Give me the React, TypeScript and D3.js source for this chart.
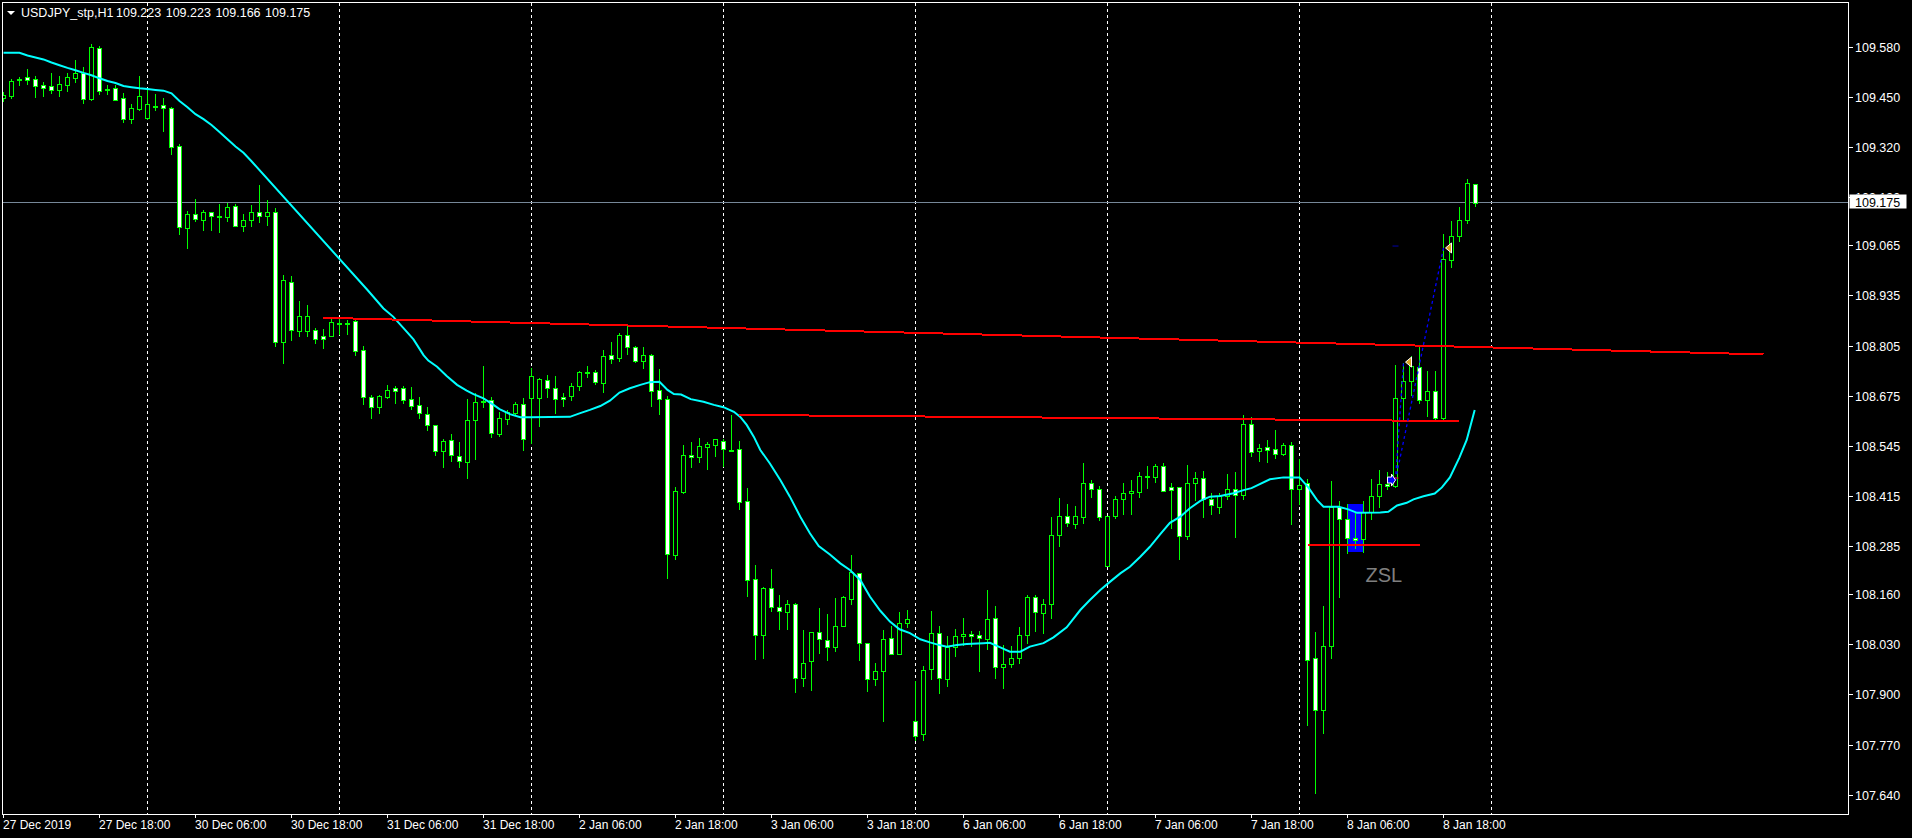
import React from "react";
import * as d3 from "d3";

// ---------- data ----------
const symbolTitle = "USDJPY_stp,H1";
const titleQuotes = ["109.223", "109.223", "109.166", "109.175"];
const lastPrice = 109.175;

const opens = [
  109.448, 109.453, 109.495, 109.501, 109.495, 109.480, 109.477, 109.468, 109.481, 109.500,
  109.513, 109.445, 109.576, 109.469, 109.472, 109.446, 109.393, 109.419, 109.396, 109.427,
  109.428, 109.420, 109.322, 109.110, 109.145, 109.131, 109.150, 109.140, 109.139, 109.166,
  109.116, 109.130, 109.151, 109.141, 109.151, 108.814, 108.970, 108.843, 108.843, 108.844,
  108.829, 108.830, 108.863, 108.864, 108.868, 108.793, 108.671, 108.645, 108.672, 108.694,
  108.694, 108.665, 108.650, 108.627, 108.598, 108.531, 108.559, 108.518, 108.502, 108.611,
  108.661, 108.663, 108.575, 108.614, 108.631, 108.654, 108.668, 108.668, 108.715, 108.694,
  108.671, 108.673, 108.699, 108.735, 108.736, 108.707, 108.780, 108.773, 108.831, 108.800,
  108.766, 108.780, 108.689, 108.665, 108.262, 108.426, 108.520, 108.515, 108.541, 108.548,
  108.557, 108.535, 108.536, 108.401, 108.199, 108.053, 108.175, 108.126, 108.115, 108.134,
  107.942, 107.986, 108.061, 108.041, 108.022, 108.078, 108.148, 108.214, 108.033, 107.941,
  107.960, 108.046, 108.004, 108.085, 107.832, 107.797, 107.965, 108.059, 107.939, 108.024,
  108.051, 108.056, 108.053, 108.045, 108.098, 107.970, 107.978, 107.994, 108.053, 108.152,
  108.110, 108.134, 108.313, 108.362, 108.341, 108.359, 108.448, 108.432, 108.234, 108.364,
  108.406, 108.422, 108.426, 108.465, 108.463, 108.492, 108.437, 108.439, 108.310, 108.448,
  108.461, 108.407, 108.387, 108.415, 108.432, 108.417, 108.601, 108.531, 108.541, 108.536,
  108.523, 108.546, 108.432, 108.449, 107.994, 107.859, 108.025, 108.385, 108.354, 108.307,
  108.302, 108.374, 108.414, 108.447, 108.440, 108.670, 108.714, 108.749, 108.664, 108.686,
  108.616, 109.026, 109.090, 109.130, 109.223,
];
const highs = [
  109.463, 109.496, 109.502, 109.522, 109.504, 109.488, 109.512, 109.503, 109.512, 109.545,
  109.527, 109.587, 109.582, 109.481, 109.481, 109.459, 109.431, 109.504, 109.468, 109.457,
  109.447, 109.423, 109.328, 109.154, 109.185, 109.156, 109.152, 109.172, 109.175, 109.172,
  109.146, 109.169, 109.221, 109.182, 109.162, 108.988, 108.985, 108.920, 108.910, 108.850,
  108.848, 108.874, 108.874, 108.871, 108.871, 108.804, 108.676, 108.677, 108.703, 108.700,
  108.700, 108.697, 108.671, 108.645, 108.599, 108.563, 108.575, 108.555, 108.666, 108.681,
  108.752, 108.671, 108.633, 108.638, 108.658, 108.668, 108.746, 108.721, 108.728, 108.726,
  108.681, 108.707, 108.739, 108.752, 108.741, 108.793, 108.814, 108.837, 108.856, 108.805,
  108.801, 108.782, 108.744, 108.674, 108.437, 108.547, 108.555, 108.565, 108.555, 108.562,
  108.562, 108.625, 108.557, 108.435, 108.236, 108.179, 108.225, 108.158, 108.145, 108.136,
  108.067, 108.063, 108.124, 108.109, 108.150, 108.155, 108.262, 108.216, 108.033, 107.981,
  108.067, 108.077, 108.114, 108.119, 107.936, 107.974, 108.117, 108.078, 108.052, 108.070,
  108.098, 108.065, 108.065, 108.171, 108.129, 108.028, 108.026, 108.075, 108.158, 108.158,
  108.148, 108.360, 108.410, 108.393, 108.389, 108.500, 108.456, 108.441, 108.363, 108.415,
  108.448, 108.456, 108.477, 108.492, 108.498, 108.500, 108.448, 108.439, 108.495, 108.476,
  108.480, 108.422, 108.422, 108.472, 108.477, 108.625, 108.620, 108.550, 108.560, 108.585,
  108.552, 108.555, 108.510, 108.460, 108.062, 108.129, 108.453, 108.401, 108.393, 108.374,
  108.403, 108.460, 108.481, 108.477, 108.755, 108.760, 108.779, 108.806, 108.739, 108.739,
  109.093, 109.127, 109.164, 109.237, 109.223,
];
const lows = [
  109.440, 109.448, 109.481, 109.483, 109.450, 109.453, 109.461, 109.453, 109.466, 109.489,
  109.435, 109.442, 109.458, 109.457, 109.442, 109.385, 109.383, 109.417, 109.393, 109.416,
  109.362, 109.302, 109.094, 109.059, 109.128, 109.104, 109.104, 109.100, 109.128, 109.115,
  109.102, 109.115, 109.125, 109.118, 108.804, 108.759, 108.819, 108.830, 108.830, 108.811,
  108.799, 108.830, 108.834, 108.834, 108.780, 108.653, 108.616, 108.631, 108.670, 108.655,
  108.657, 108.640, 108.616, 108.586, 108.522, 108.491, 108.506, 108.491, 108.462, 108.510,
  108.646, 108.568, 108.570, 108.601, 108.625, 108.535, 108.553, 108.596, 108.672, 108.631,
  108.648, 108.664, 108.690, 108.724, 108.706, 108.685, 108.759, 108.766, 108.784, 108.762,
  108.747, 108.648, 108.627, 108.203, 108.252, 108.423, 108.491, 108.504, 108.486, 108.519,
  108.493, 108.531, 108.382, 108.156, 107.993, 107.995, 108.117, 108.071, 108.071, 107.907,
  107.923, 107.912, 108.008, 107.990, 108.013, 108.078, 108.135, 107.990, 107.910, 107.925,
  107.832, 108.004, 108.004, 108.076, 107.782, 107.782, 107.941, 107.905, 107.923, 108.000,
  108.028, 108.026, 107.962, 108.019, 107.943, 107.917, 107.972, 107.982, 108.034, 108.065,
  108.060, 108.099, 108.286, 108.338, 108.332, 108.345, 108.413, 108.352, 108.233, 108.358,
  108.368, 108.368, 108.413, 108.436, 108.452, 108.427, 108.332, 108.252, 108.302, 108.404,
  108.360, 108.369, 108.371, 108.407, 108.309, 108.408, 108.519, 108.505, 108.504, 108.514,
  108.520, 108.343, 108.395, 107.822, 107.645, 107.801, 107.994, 108.154, 108.268, 108.281,
  108.270, 108.354, 108.387, 108.432, 108.437, 108.614, 108.677, 108.656, 108.622, 108.612,
  108.614, 109.008, 109.075, 109.122, 109.166,
];
const closes = [
  109.455, 109.490, 109.497, 109.494, 109.479, 109.474, 109.468, 109.482, 109.501, 109.512,
  109.445, 109.578, 109.466, 109.468, 109.443, 109.392, 109.421, 109.451, 109.431, 109.425,
  109.422, 109.319, 109.113, 109.146, 109.132, 109.150, 109.140, 109.141, 109.163, 109.116,
  109.130, 109.151, 109.141, 109.151, 108.813, 108.975, 108.845, 108.881, 108.881, 108.821,
  108.821, 108.865, 108.864, 108.862, 108.792, 108.672, 108.645, 108.673, 108.690, 108.688,
  108.663, 108.649, 108.629, 108.598, 108.531, 108.558, 108.520, 108.505, 108.611, 108.658,
  108.662, 108.577, 108.616, 108.632, 108.654, 108.562, 108.725, 108.717, 108.694, 108.665,
  108.665, 108.699, 108.736, 108.737, 108.710, 108.777, 108.771, 108.831, 108.800, 108.766,
  108.780, 108.686, 108.667, 108.264, 108.427, 108.520, 108.515, 108.544, 108.550, 108.562,
  108.536, 108.534, 108.398, 108.196, 108.053, 108.175, 108.126, 108.116, 108.134, 107.942,
  107.982, 108.061, 108.043, 108.022, 108.077, 108.153, 108.217, 108.033, 107.939, 107.960,
  108.043, 108.004, 108.085, 108.095, 107.792, 107.963, 108.059, 107.942, 108.024, 108.051,
  108.056, 108.051, 108.046, 108.095, 107.970, 107.978, 107.994, 108.053, 108.152, 108.113,
  108.134, 108.313, 108.362, 108.344, 108.362, 108.448, 108.432, 108.359, 108.362, 108.407,
  108.422, 108.428, 108.466, 108.467, 108.492, 108.427, 108.429, 108.310, 108.448, 108.461,
  108.407, 108.391, 108.415, 108.432, 108.417, 108.601, 108.528, 108.539, 108.534, 108.524,
  108.546, 108.432, 108.444, 107.989, 107.859, 108.025, 108.385, 108.356, 108.307, 108.300,
  108.374, 108.414, 108.445, 108.440, 108.670, 108.714, 108.753, 108.663, 108.686, 108.616,
  109.029, 109.088, 109.130, 109.226, 109.175,
];

// moving average, read at these bar positions
const maBars = [
  0, 2, 3, 4, 5, 6, 7, 8, 9, 10, 11, 12, 13, 14, 15, 16, 17, 18, 19, 20,
  21, 22, 23, 24, 25, 26, 27, 28, 29, 30, 31, 45.5, 47.5, 48.7, 50, 51.25, 52.5, 53.1, 54.2, 55.4,
  56.7, 57.9, 58.75, 60, 61.25, 62, 63.3, 64.6, 65.8, 70.8, 72, 73.3, 74.6, 75.8, 77, 78.3, 79.6, 80.8, 82, 83,
  83.8, 84.7, 85.9, 87.5, 88.8, 90, 91.3, 92.1, 92.9, 93.8, 94.6, 95.8, 97.1, 98.3, 99.6, 100.8, 101.9, 103.3, 104.6, 105.8,
  107.1, 108.3, 109.6, 110.8, 112, 113.3, 114.6, 115.8, 117, 117.9, 119.2, 120.4, 122.5, 123.3, 124.6, 125.8, 127.1, 128.3, 130, 131.25,
  132.9, 134.6, 135.8, 137.1, 138.3, 139.6, 140.8, 142.1, 143.3, 144.6, 145.8, 147.1, 148.3, 149.6, 150.8, 152.1, 153.75, 155, 156, 158.3,
  160, 162, 163.1, 164.2, 165, 166.9, 168.1, 169.2, 172.1, 173.1, 174.2, 175.4, 176.25, 177.5, 178.9, 179.8, 180.8, 182, 182.9, 183.9,
];
const maValues = [
  109.564, 109.564, 109.557, 109.552, 109.547, 109.539, 109.532, 109.525, 109.519, 109.512, 109.506, 109.498, 109.491, 109.486, 109.478, 109.475, 109.472, 109.470, 109.468, 109.466,
  109.459, 109.439, 109.423, 109.405, 109.392, 109.377, 109.359, 109.340, 109.321, 109.305, 109.283, 108.949, 108.901, 108.880, 108.850, 108.821, 108.780, 108.766, 108.750, 108.726,
  108.703, 108.688, 108.679, 108.668, 108.651, 108.640, 108.627, 108.619, 108.619, 108.620, 108.629, 108.638, 108.648, 108.662, 108.683, 108.694, 108.703, 108.710, 108.711, 108.690,
  108.679, 108.678, 108.666, 108.659, 108.651, 108.645, 108.633, 108.620, 108.599, 108.568, 108.534, 108.499, 108.456, 108.413, 108.361, 108.318, 108.285, 108.263, 108.240, 108.223,
  108.197, 108.154, 108.117, 108.089, 108.069, 108.059, 108.043, 108.035, 108.028, 108.024, 108.028, 108.031, 108.033, 108.034, 108.022, 108.011, 108.011, 108.024, 108.033, 108.048,
  108.074, 108.119, 108.145, 108.171, 108.192, 108.214, 108.231, 108.257, 108.283, 108.316, 108.345, 108.361, 108.383, 108.402, 108.413, 108.415, 108.422, 108.430, 108.435, 108.458,
  108.463, 108.463, 108.437, 108.404, 108.387, 108.387, 108.380, 108.371, 108.372, 108.374, 108.390, 108.397, 108.406, 108.414, 108.421, 108.437, 108.463, 108.515, 108.560, 108.638,
];

const priceTicks = [
  109.58, 109.45, 109.32, 109.19, 109.065, 108.935, 108.805, 108.675,
  108.545, 108.415, 108.285, 108.16, 108.03, 107.9, 107.77, 107.64,
];
const timeLabelBars = [0, 12, 24, 36, 48, 60, 72, 84, 96, 108, 120, 132, 144, 156, 168, 180];
const timeLabels = [
  "27 Dec 2019", "27 Dec 18:00", "30 Dec 06:00", "30 Dec 18:00", "31 Dec 06:00", "31 Dec 18:00",
  "2 Jan 06:00", "2 Jan 18:00", "3 Jan 06:00", "3 Jan 18:00", "6 Jan 06:00", "6 Jan 18:00",
  "7 Jan 06:00", "7 Jan 18:00", "8 Jan 06:00", "8 Jan 18:00",
];
const daySeparatorBars = [18, 42, 66, 90, 114, 138, 162, 186];

// drawn objects (bar index, price)
const trendStartBars = [40, 92, 163];
const trendEndBars = [220, 182, 177];
const trendStartPrices = [108.877, 108.625, 108.288];
const trendEndPrices = [108.782, 108.609, 108.288];
const zoneBars = [168, 170];
const zonePrices = [108.394, 108.27];
const zoneLabel = "ZSL";
const tradeOpenBar = 174;
const tradeOpenPrice = 108.456;
const tradeCloseBars = [175, 180];
const tradeClosePrices = [108.762, 109.058];

// ---------- component ----------
const FONT = "'Liberation Sans', Arial, sans-serif";

export default function App() {
  const W = 1912;
  const H = 838;
  const left = 2.5;
  const top = 2.5;
  const right = 1848.5;
  const bottom = 814.5;

  const x = d3.scaleLinear().domain([0, 184]).range([3.5, 3.5 + 8 * 184]);
  const y = d3.scaleLinear().domain([107.64, 109.58]).range([794.7, 46.7]);

  const candles = d3.range(opens.length).map((i) => ({
    i,
    o: opens[i],
    h: highs[i],
    l: lows[i],
    c: closes[i],
  }));

  const maLine = d3
    .line<number>()
    .x((_, k) => x(maBars[k]))
    .y((v) => y(v))(maValues) as string;

  const py = Math.floor(y(lastPrice)) + 0.5;
  const boxTop = py - 8;

  const openX = x(tradeOpenBar);
  const openY = y(tradeOpenPrice);

  return (
    <svg
      width={W}
      height={H}
      style={{ position: "absolute", left: 0, top: 0, background: "#000", display: "block" }}
    >
      <defs>
        <clipPath id="plot">
          <rect x={3} y={3} width={right - 3.5} height={bottom - 3.5} />
        </clipPath>
        <clipPath id="aboveBox">
          <rect x={right} y={0} width={70} height={boxTop} />
        </clipPath>
      </defs>
      <rect x={0} y={0} width={W} height={H} fill="#000" />

      <g clipPath="url(#plot)">
        {/* day separators */}
        {daySeparatorBars.map((b) => (
          <line
            key={"g" + b}
            x1={Math.round(x(b) - 0.5) + 0.5}
            x2={Math.round(x(b) - 0.5) + 0.5}
            y1={top}
            y2={bottom}
            stroke="#ffffff"
            strokeDasharray="3,3"
            shapeRendering="crispEdges"
          />
        ))}

        {/* current price line */}
        <line x1={0} x2={right} y1={py} y2={py} stroke="#778899" shapeRendering="crispEdges" />

        {/* zone rectangle */}
        <rect
          x={Math.round(x(zoneBars[0]) - 0.5)}
          y={Math.round(y(zonePrices[0]))}
          width={x(zoneBars[1]) - x(zoneBars[0]) + 1}
          height={Math.round(y(zonePrices[1])) - Math.round(y(zonePrices[0]))}
          fill="#0000ff"
        />

        {/* candles */}
        {candles.map((d) => {
          const cx = Math.round(x(d.i) - 0.5) + 0.5;
          const yo = y(d.o);
          const yc = y(d.c);
          const t = Math.round(Math.min(yo, yc));
          const b = Math.round(Math.max(yo, yc));
          const yh = Math.round(y(d.h));
          const yl = Math.round(y(d.l));
          const bear = d.o > d.c;
          return (
            <g key={d.i} shapeRendering="crispEdges">
              <line x1={cx} x2={cx} y1={yh} y2={yl + 1} stroke="#00ff00" />
              {b - t >= 1 ? (
                <rect
                  x={cx - 2}
                  y={t + 0.5}
                  width={4}
                  height={b - t}
                  fill={bear ? "#ffffff" : "#000000"}
                  stroke="#00ff00"
                />
              ) : (
                <line x1={cx - 2.5} x2={cx + 2.5} y1={t + 0.5} y2={t + 0.5} stroke="#00ff00" strokeWidth={2} />
              )}
            </g>
          );
        })}

        {/* moving average */}
        <path d={maLine} fill="none" stroke="#00ffff" strokeWidth={2} />

        {/* trend lines */}
        {trendStartBars.map((b, k) => (
          <line
            key={"t" + k}
            x1={x(b)}
            x2={x(trendEndBars[k])}
            y1={y(trendStartPrices[k])}
            y2={y(trendEndPrices[k])}
            stroke="#ff0000"
            strokeWidth={2}
            shapeRendering="crispEdges"
          />
        ))}

        {/* trade history lines */}
        {tradeCloseBars.map((b, k) => (
          <line
            key={"tr" + k}
            x1={openX}
            y1={openY}
            x2={x(b)}
            y2={y(tradeClosePrices[k])}
            stroke="#0000ff"
            strokeWidth={1.3}
            strokeDasharray="3,3"
          />
        ))}
        <line x1={openX - 2} x2={openX + 3} y1={openY - 2} y2={openY - 2} stroke="#ff0000" />
        <line x1={openX - 3} x2={openX + 3} y1={y(109.063)} y2={y(109.063)} stroke="#0000aa" />
        {/* open arrow */}
        <path
          d={`M${openX - 8},${openY - 3} L${openX - 4},${openY - 3} L${openX - 4},${openY - 6} L${openX},${openY} L${openX - 4},${openY + 6} L${openX - 4},${openY + 3} L${openX - 8},${openY + 3} Z`}
          fill="#0000ff"
          stroke="#ffffff"
          strokeWidth={1}
        />
        {/* close arrows */}
        {tradeCloseBars.map((b, k) => {
          const cx = x(b) + 2;
          const cy = y(tradeClosePrices[k]);
          return (
            <path
              key={"ca" + k}
              d={`M${cx},${cy} L${cx + 6},${cy - 5} L${cx + 6},${cy + 5} Z`}
              fill="#daa520"
              stroke="#ffffff"
              strokeWidth={1}
            />
          );
        })}

        {/* zone label */}
        <text
          x={x(zoneBars[1]) + 2}
          y={y(zonePrices[1]) + 30}
          fill="#7f7f7f"
          fontFamily={FONT}
          fontSize={20}
        >
          {zoneLabel}
        </text>
      </g>

      {/* frame */}
      <rect
        x={left}
        y={top}
        width={right - left}
        height={bottom - top}
        fill="none"
        stroke="#ffffff"
        shapeRendering="crispEdges"
      />

      {/* price axis */}
      {priceTicks.map((p) => {
        const ty = Math.round(y(p)) + 0.5;
        const hidden = Math.abs(ty - py) < 12;
        return (
          <g key={"p" + p}>
            <line x1={right} x2={right + 4} y1={ty} y2={ty} stroke="#ffffff" shapeRendering="crispEdges" />
            <text
              x={1855}
              y={ty + 4.5}
              fill="#ffffff"
              fontFamily={FONT}
              fontSize={12.5}
              clipPath={hidden ? "url(#aboveBox)" : undefined}
            >
              {p.toFixed(3)}
            </text>
          </g>
        );
      })}
      <rect x={right + 1} y={boxTop} width={57} height={14} fill="#ffffff" />
      <text x={1855} y={py + 4.5} fill="#000000" fontFamily={FONT} fontSize={12.5}>
        {lastPrice.toFixed(3)}
      </text>

      {/* time axis */}
      {timeLabelBars.map((b, k) => {
        const tx = Math.round(x(b) - 0.5) + 0.5;
        return (
          <g key={"x" + b}>
            <line x1={tx} x2={tx} y1={bottom} y2={bottom + 3} stroke="#ffffff" shapeRendering="crispEdges" />
            <text x={tx - 0.5} y={829} fill="#ffffff" fontFamily={FONT} fontSize={12}>
              {timeLabels[k]}
            </text>
          </g>
        );
      })}

      {/* title */}
      <path d="M7,11 L15,11 L11,15 Z" fill="#ffffff" />
      <text x={21} y={16.5} fill="#ffffff" fontFamily={FONT} fontSize={12.5}>
        {symbolTitle}
      </text>
      {titleQuotes.map((q, k) => (
        <text key={"q" + k} x={116 + k * 49.7} y={16.5} fill="#ffffff" fontFamily={FONT} fontSize={12.5}>
          {q}
        </text>
      ))}
    </svg>
  );
}
